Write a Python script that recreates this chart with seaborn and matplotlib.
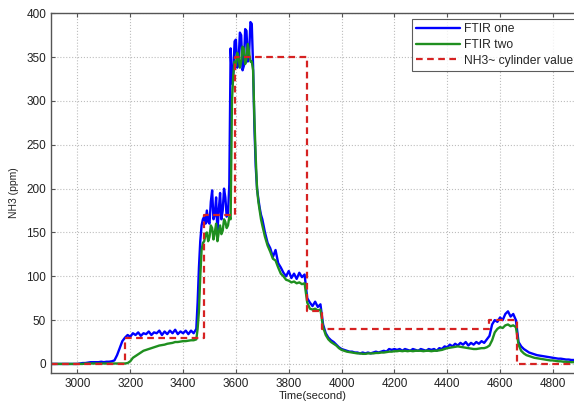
import numpy as np
import pandas as pd
import matplotlib
matplotlib.use("Agg")
import matplotlib.pyplot as plt
import seaborn as sns

# ---- data ----
# sampling grid: 10 s steps, 5 s steps around the fast-changing peak
time_s = np.concatenate([np.arange(2900, 3450, 10),
                         np.arange(3450, 3700, 5),
                         np.arange(3700, 4890, 10)])

ftir_one = [
    0, 0, 0, 0, 0, 0, 0, 0, 0, 0,                      # 2900-2990
    0, 0.5, 1, 1, 1.5, 2, 2, 2, 2, 2.5,                # 3000-3090
    2, 2.5, 2.5, 3, 4, 10, 18, 26, 30, 33,             # 3100-3190
    31, 35, 33, 36, 32, 35, 34, 37, 33, 36,            # 3200-3290
    35, 38, 33, 37, 34, 38, 35, 39, 34, 37,            # 3300-3390
    35, 38, 34, 38, 35,                                # 3400-3440
    40, 70, 110, 140, 158, 165, 168, 160, 175, 162,    # 3450-3495 (5 s)
    160, 185, 198, 165, 170, 190, 150, 175, 195, 165,  # 3500-3545
    175, 200, 190, 168, 172, 205, 360, 320, 330, 368,  # 3550-3595
    370, 338, 345, 378, 375, 335, 340, 382, 380, 345,  # 3600-3645
    355, 390, 388, 340, 270, 225, 200, 188, 178, 170,  # 3650-3695
    165, 150, 138, 132, 122, 130, 115, 110, 104, 100,  # 3700-3790
    106, 98, 103, 97, 104, 99, 102, 75, 70, 66,        # 3800-3890
    71, 65, 68, 45, 35, 30, 27, 25, 22, 19,            # 3900-3990
    17, 16, 15, 14, 14, 13, 13, 12, 13, 12,            # 4000-4090
    13, 12, 13, 14, 13, 14, 15, 14, 17, 16,            # 4100-4190
    17, 16, 17, 15, 17, 16, 15, 17, 16, 15,            # 4200-4290
    17, 16, 15, 17, 16, 17, 15, 18, 17, 20,            # 4300-4390
    19, 22, 20, 23, 21, 24, 22, 25, 21, 24,            # 4400-4490
    22, 25, 23, 26, 24, 28, 32, 45, 50, 48,            # 4500-4590
    53, 50, 57, 60, 54, 57, 50, 25, 20, 17,            # 4600-4690
    15, 13, 12, 11, 10, 9.5, 9, 8.5, 8, 7.5,           # 4700-4790
    7, 6.5, 6, 6, 5.5, 5, 5, 4.5, 4.5,                 # 4800-4880
]

ftir_two = [
    0, 0, 0, 0, 0, 0, 0, 0, 0, 0,                      # 2900-2990
    0, 0, 0, 0.5, 0.5, 0.5, 0.5, 0.5, 0.5, 0.5,        # 3000-3090
    0.5, 0.5, 0.5, 0.5, 0.5, 0.5, 0.5, 0.5, 0.5, 1,    # 3100-3190
    3, 7, 9, 11, 13, 15, 16, 17, 18, 19,               # 3200-3290
    20, 21, 21.5, 22, 23, 23.5, 24, 25, 25, 25.5,      # 3300-3390
    26, 26, 26.5, 27, 27,                              # 3400-3440
    28, 40, 60, 100, 130, 138, 140, 148, 150, 140,     # 3450-3495 (5 s)
    145, 158, 155, 142, 150, 160, 140, 150, 158, 148,  # 3500-3545
    152, 165, 162, 155, 158, 168, 165, 300, 330, 345,  # 3550-3595
    340, 355, 350, 338, 345, 362, 360, 342, 348, 365,  # 3600-3645
    355, 345, 345, 335, 280, 235, 200, 185, 175, 165,  # 3650-3695
    158, 145, 135, 128, 120, 118, 110, 103, 100, 96,   # 3700-3790
    95, 93, 94, 92, 93, 91, 92, 70, 63, 62,            # 3800-3890
    63, 61, 62, 42, 33, 28, 25, 23, 21, 18,            # 3900-3990
    16, 15, 14, 13.5, 13, 12.5, 12, 12, 11.5, 11.5,    # 4000-4090
    12, 12, 12, 12.5, 12.5, 13, 13, 13.5, 14, 14,      # 4100-4190
    14.5, 14.5, 15, 14.5, 15, 14.5, 15, 14.5, 15, 15,  # 4200-4290
    15, 14.5, 15, 15, 14.5, 15, 15, 15.5, 16, 17,      # 4300-4390
    18, 18.5, 19, 19.5, 20, 19.5, 19, 18.5, 18, 17.5,  # 4400-4490
    17, 17, 17.5, 18, 18, 19, 21, 27, 36, 40,          # 4500-4590
    42, 41, 44, 45, 43, 44, 42, 22, 15, 12,            # 4600-4690
    10, 9, 8, 7, 6.5, 6, 5.5, 5, 4.5, 4,               # 4700-4790
    4, 3.5, 3, 3, 2.5, 2.5, 2, 2, 2,                   # 4800-4880
]

cyl_time = [2900, 3180, 3478, 3598, 3870, 3927, 4557, 4665, 4880]
cyl_value = [0, 30, 170, 350, 60, 40, 50, 0, 0]

x_ticks = [3000, 3200, 3400, 3600, 3800, 4000, 4200, 4400, 4600, 4800]
y_ticks = [0, 50, 100, 150, 200, 250, 300, 350, 400]

series_names = ["FTIR one", "FTIR two", "NH3~ cylinder value"]

# ---- plotting ----
sns.set_style("white")
plt.rcParams["font.family"] = ["Liberation Sans", "DejaVu Sans"]

fig = plt.figure(figsize=(5.74, 4.01), dpi=100)
ax = fig.add_axes([0.0889, 0.0706, 0.9111, 0.8962])

df1 = pd.DataFrame({"t": time_s, "v": ftir_one})
df2 = pd.DataFrame({"t": time_s, "v": ftir_two})
dfc = pd.DataFrame({"t": cyl_time, "v": cyl_value})

sns.lineplot(data=df1, x="t", y="v", ax=ax, color="#0000ff", lw=1.7,
             label=series_names[0], estimator=None)
sns.lineplot(data=df2, x="t", y="v", ax=ax, color="#1f8f1f", lw=1.7,
             label=series_names[1], estimator=None)
sns.lineplot(data=dfc, x="t", y="v", ax=ax, color="#d62222", lw=1.6,
             linestyle=(0, (3, 2)), drawstyle="steps-post",
             label=series_names[2], estimator=None)

ax.set_xlim(2900, 4880)
ax.set_ylim(-10, 400)
ax.set_xticks(x_ticks)
ax.set_yticks(y_ticks)
ax.grid(True, linestyle=":", color="#bdbdbd", linewidth=0.8)
ax.set_axisbelow(True)

for side in ["left", "bottom", "top"]:
    ax.spines[side].set_visible(True)
    ax.spines[side].set_color("#555555")
    ax.spines[side].set_linewidth(1.0)
ax.spines["right"].set_visible(False)

ax.tick_params(axis="both", direction="in", length=3, width=0.8,
               colors="#555555", labelcolor="#222222", labelsize=8.5,
               top=True, bottom=True, left=True)

ax.set_xlabel("Time(second)", fontsize=8, color="#222222", labelpad=1)
ax.set_ylabel("NH3 (ppm)", fontsize=7.5, color="#222222", labelpad=5)

leg = ax.legend(loc="upper right", bbox_to_anchor=(1.006, 0.984),
                fontsize=8.7, frameon=True, fancybox=False,
                borderaxespad=0.0, handlelength=3.6, handletextpad=0.35,
                labelspacing=0.3, borderpad=0.35)
leg.get_frame().set_edgecolor("#333333")
leg.get_frame().set_linewidth(0.8)

fig.savefig("out.png", dpi=100)
